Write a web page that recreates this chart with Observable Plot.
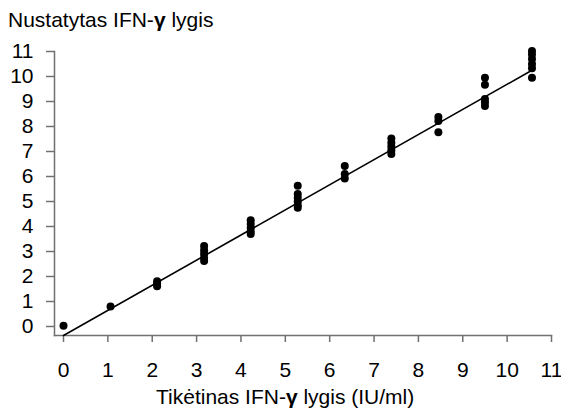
<!DOCTYPE html>
<html><head><meta charset="utf-8">
<script src="https://cdn.jsdelivr.net/npm/d3@7"></script>
<script src="https://cdn.jsdelivr.net/npm/@observablehq/plot@0.6"></script>
<style>
body{margin:0;background:#fff;}
#wrap{position:relative;width:561px;height:412px;font-family:"Liberation Sans",Arial,sans-serif;color:#000;overflow:hidden;background:#fff;}
#title{position:absolute;left:8px;top:9px;font-size:21px;line-height:21px;white-space:nowrap;z-index:2;}
#chart{position:absolute;left:0;top:30px;z-index:1;}
#xlabel{position:absolute;left:156px;top:386px;font-size:21px;line-height:21px;white-space:nowrap;z-index:2;}
</style></head><body>
<div id="wrap">
<div id="title">Nustatytas IFN-<b>γ</b> lygis</div>
<div id="chart"></div>
<div id="xlabel">Tikėtinas IFN-<b>γ</b> lygis (IU/ml)</div>
</div>
<script>
// expected IFN-γ level (x) for each group of replicate measurements
const expected = [0, 1.06, 2.11, 3.17, 4.22, 5.28, 6.34, 7.39, 8.45, 9.5, 10.56];
// measured IFN-γ levels (y) per group
const measured = [
  [0.03],
  [0.8],
  [1.81, 1.71, 1.61],
  [3.22, 3.05, 2.9, 2.75, 2.62],
  [4.25, 4.1, 3.95, 3.8, 3.7],
  [5.63, 5.3, 5.15, 5.0, 4.85, 4.75],
  [6.42, 6.1, 5.92],
  [7.52, 7.35, 7.2, 7.05, 6.9],
  [8.38, 8.22, 7.77],
  [9.95, 9.67, 9.1, 8.97, 8.82],
  [11.02, 10.88, 10.7, 10.5, 10.33, 9.95]
];
// fitted regression line end points
const fitX = [0, 10.56];
const fitY = [-0.36, 10.25];
// axis tick values
const tickValues = [0, 1, 2, 3, 4, 5, 6, 7, 8, 9, 10, 11];

const points = expected.flatMap((x, i) => measured[i].map(y => ({x, y})));
const fit = fitX.map((x, i) => ({x, y: fitY[i]}));

const axisGray = "#707070";
const font = "'Liberation Sans', Arial, sans-serif";
const chart = Plot.plot({
  width: 561,
  height: 350,
  marginTop: 21,
  marginBottom: 45,
  marginLeft: 54,
  marginRight: 10,
  style: {fontFamily: font, fontSize: "21px", color: "#000", background: "transparent", overflow: "visible"},
  x: {domain: [0, 11], insetLeft: 9},
  y: {domain: [0, 11], insetBottom: 9},
  marks: [
    Plot.frame({anchor: "left", stroke: axisGray, strokeWidth: 1.5}),
    Plot.frame({anchor: "bottom", stroke: axisGray, strokeWidth: 1.5}),
    Plot.axisX(tickValues, {tickSize: 7, tickPadding: 20, stroke: axisGray, strokeWidth: 1.5, fill: "#000", fontSize: 21, fontFamily: font, label: null}),
    Plot.axisY(tickValues, {tickSize: 8, tickPadding: 13, stroke: axisGray, strokeWidth: 1.5, fill: "#000", fontSize: 21, fontFamily: font, label: null}),
    Plot.line(fit, {x: "x", y: "y", stroke: "#000", strokeWidth: 1.6}),
    Plot.dot(points, {x: "x", y: "y", r: 4, fill: "#000"})
  ]
});
document.getElementById("chart").appendChild(chart);
</script>
</body></html>
